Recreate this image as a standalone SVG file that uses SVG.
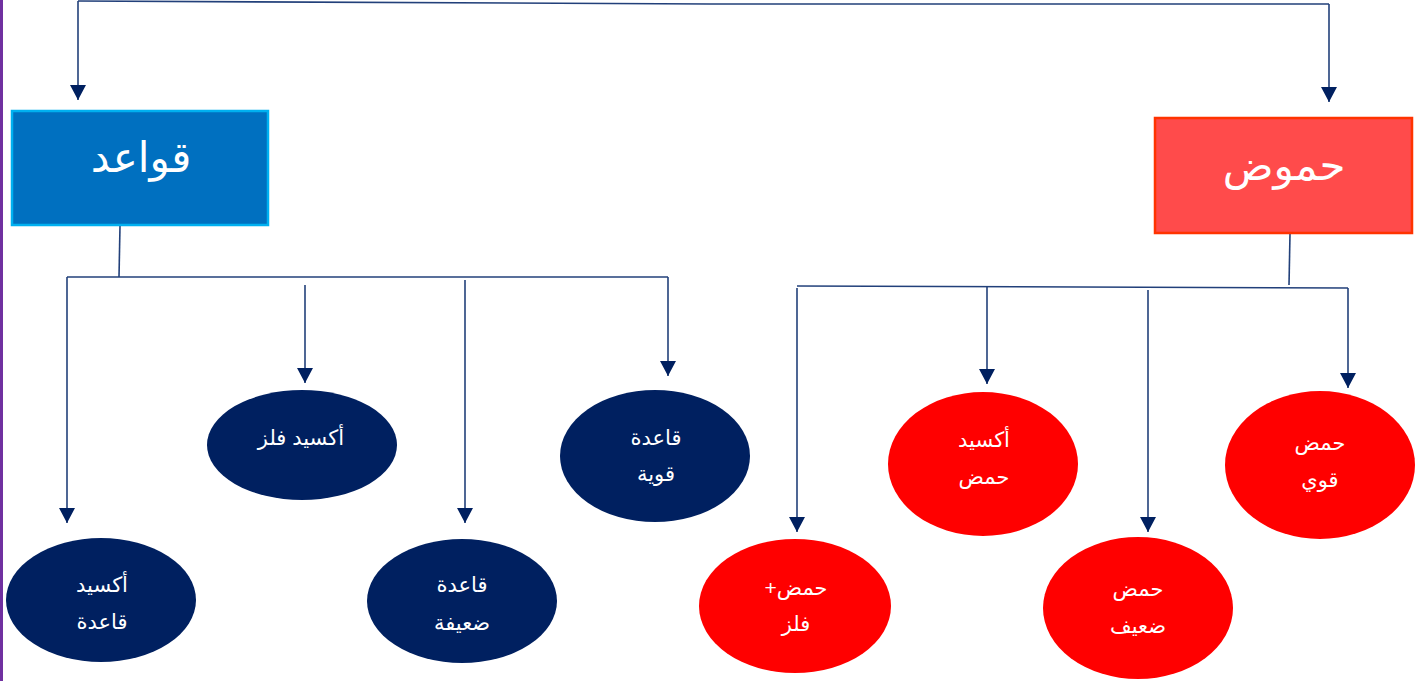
<svg xmlns="http://www.w3.org/2000/svg" width="1424" height="681" viewBox="0 0 1424 681">
<style>
.c{fill:none;stroke:#22407A;stroke-width:1.6}
.nb{fill:#002060}
.nr{fill:#FF0000}
.t{font-family:"Liberation Sans",Arial,"DejaVu Sans",sans-serif;fill:#FFFFFF;text-anchor:middle;direction:rtl}
.s{font-size:21px}
.b{font-size:42px}
</style>
<defs>
<marker id="m" viewBox="0 0 15 16" refX="15" refY="8" markerWidth="15" markerHeight="16" markerUnits="userSpaceOnUse" orient="auto">
<path d="M0,0 L15,8 L0,16 Z" fill="#002060"/>
</marker>
</defs>
<rect x="0" y="0" width="1424" height="681" fill="#FFFFFF"/>
<rect x="0" y="0" width="3" height="681" fill="#7030A0"/>
<g id="connectors">
<path class="c" d="M78,1 L710,4 L1329,4"/>
<path class="c" d="M78,1 L78,100" marker-end="url(#m)"/>
<path class="c" d="M1329,4 L1329,102" marker-end="url(#m)"/>
<path class="c" d="M120,226 L119,277"/>
<path class="c" d="M67,277 L668,277"/>
<path class="c" d="M67,277 L67,523" marker-end="url(#m)"/>
<path class="c" d="M305,285 L305,383" marker-end="url(#m)"/>
<path class="c" d="M465,280 L465,523" marker-end="url(#m)"/>
<path class="c" d="M668,277 L668,376" marker-end="url(#m)"/>
<path class="c" d="M1290,234 L1289,285"/>
<path class="c" d="M797,286 L1348,288"/>
<path class="c" d="M797,288 L797,532" marker-end="url(#m)"/>
<path class="c" d="M987,286 L987,384" marker-end="url(#m)"/>
<path class="c" d="M1148,290 L1148,532" marker-end="url(#m)"/>
<path class="c" d="M1348,288 L1348,388" marker-end="url(#m)"/>
</g>
<g id="bases">
<rect x="12" y="111" width="256" height="114" fill="#0070C0" stroke="#00B0F0" stroke-width="2.5"/>
<text class="t b" x="141" y="172">قواعد</text>
</g>
<g id="acids">
<rect x="1155" y="118" width="257" height="115" fill="#FF4B4B" stroke="#FF3300" stroke-width="2.5"/>
<text class="t b" x="1284" y="180">حموض</text>
</g>
<g id="metal-oxide">
<ellipse class="nb" cx="302" cy="445" rx="95" ry="55"/>
<text class="t s" x="301" y="445">أكسيد فلز</text>
</g>
<g id="basic-oxide">
<ellipse class="nb" cx="101" cy="600" rx="95" ry="62"/>
<text class="t s" x="102" y="592">أكسيد</text>
<text class="t s" x="102" y="629">قاعدة</text>
</g>
<g id="weak-base">
<ellipse class="nb" cx="462" cy="601" rx="95" ry="62"/>
<text class="t s" x="462" y="592">قاعدة</text>
<text class="t s" x="462" y="630">ضعيفة</text>
</g>
<g id="strong-base">
<ellipse class="nb" cx="655" cy="456" rx="95" ry="66"/>
<text class="t s" x="656" y="445">قاعدة</text>
<text class="t s" x="656" y="481">قوية</text>
</g>
<g id="acid-metal">
<ellipse class="nr" cx="795" cy="606" rx="96" ry="67"/>
<text class="t s" x="796" y="595">حمض+</text>
<text class="t s" x="796" y="631">فلز</text>
</g>
<g id="acidic-oxide">
<ellipse class="nr" cx="983" cy="464" rx="95" ry="72"/>
<text class="t s" x="984" y="447">أكسيد</text>
<text class="t s" x="984" y="484">حمض</text>
</g>
<g id="weak-acid">
<ellipse class="nr" cx="1138" cy="608" rx="95" ry="71"/>
<text class="t s" x="1138" y="596">حمض</text>
<text class="t s" x="1138" y="633">ضعيف</text>
</g>
<g id="strong-acid">
<ellipse class="nr" cx="1320" cy="465" rx="95" ry="74"/>
<text class="t s" x="1320" y="450">حمض</text>
<text class="t s" x="1320" y="487">قوي</text>
</g>
</svg>
